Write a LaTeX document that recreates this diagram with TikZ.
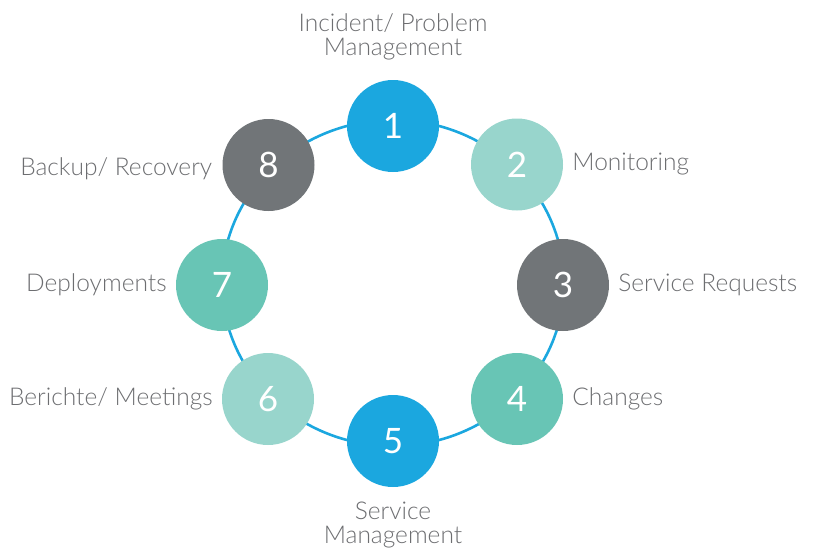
\documentclass[tikz,border=0pt]{standalone}
\usepackage{fontspec}
\setmainfont{Lato}[UprightFont=* Light]
\newfontfamily\digitfont{Lato}
\usetikzlibrary{positioning}
\definecolor{ringblue}{HTML}{1BA7DF}
\definecolor{paleteal}{HTML}{98D5CC}
\definecolor{darkgrey}{HTML}{717578}
\definecolor{midteal}{HTML}{68C5B5}
\definecolor{labelgrey}{HTML}{6D6E71}

\begin{document}
\begin{tikzpicture}[x=1pt,y=-1pt,
			step circle/.style = {
				circle, minimum size=92pt, inner sep=0pt,
				text=white, font=\digitfont\fontsize{35}{35}\selectfont
			},
			step label/.style = {
				inner sep=0pt, text=labelgrey, align=center,
				font=\fontsize{24.5}{23.5}\selectfont
			}]
			\useasboundingbox (0,0) rectangle (816,552);
			\coordinate (mid) at (393,283);
			\draw [ringblue, line width=2.6pt] (mid) ellipse [x radius=171pt, y radius=163pt];
			\node (n1) [step circle, fill=ringblue] at (393,126) {1};
			\node (n2) [step circle, fill=paleteal] at (517,164.5) {2};
			\node (n3) [step circle, fill=darkgrey] at (563,285) {3};
			\node (n4) [step circle, fill=midteal] at (517,399) {4};
			\node (n5) [step circle, fill=ringblue] at (393,441) {5};
			\node (n6) [step circle, fill=paleteal] at (268,399) {6};
			\node (n7) [step circle, fill=midteal] at (222,285) {7};
			\node (n8) [step circle, fill=darkgrey] at (268.5,165) {8};
			% labels round the ring
			\node (t1) [step label, above=20pt of n1] {Incident/ Problem\\Management};
			\node (t2) [step label, right=9pt of n2] {Monitoring};
			\node (t3) [step label, right=9pt of n3] {Service Requests};
			\node (t4) [step label, right=9pt of n4] {Changes};
			\node (t5) [step label, below=15pt of n5] {Service\\Management};
			\node (t6) [step label, left=9pt of n6] {Berichte/ Meetings};
			\node (t7) [step label, left=9pt of n7] {Deployments};
			\node (t8) [step label, left=10pt of n8, yshift=-4pt] {Backup/ Recovery};
		\end{tikzpicture}
\end{document}
